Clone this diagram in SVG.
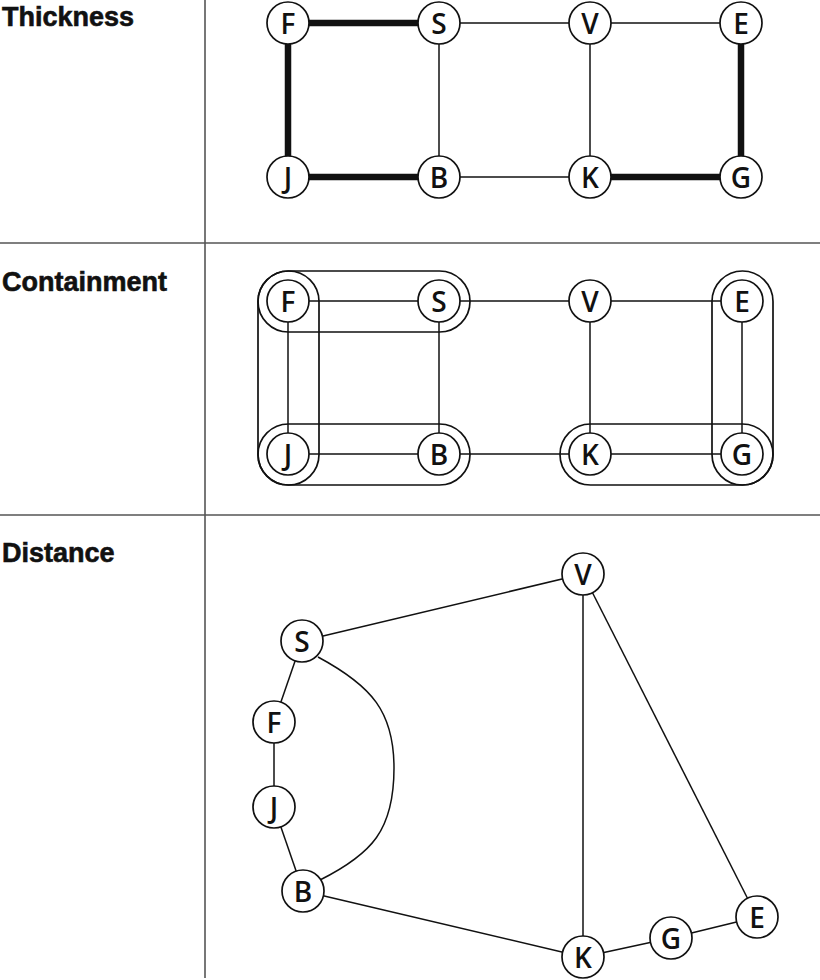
<svg xmlns="http://www.w3.org/2000/svg" width="820" height="980" viewBox="0 0 820 980">
<style>
.div{stroke:#555;stroke-width:1.6;fill:none}
.e{stroke:#111;stroke-width:1.5;fill:none}
.thick{stroke:#111;stroke-width:6.5;fill:none}
.pill{stroke:#111;stroke-width:1.7;fill:none}
.n circle{fill:#fff;stroke:#111;stroke-width:1.7}
.n text{font-family:"Open Sans","Liberation Sans",sans-serif;font-weight:600;font-size:28px;fill:#111;text-anchor:middle;dominant-baseline:central}
.lbl{font-family:"Liberation Sans",Arial,sans-serif;font-weight:bold;font-size:27px;fill:#111;stroke:#111;stroke-width:0.6}
</style>
<g id="dividers">
<line class="div" x1="205" y1="0" x2="205" y2="978"/>
<line class="div" x1="0" y1="243" x2="820" y2="243"/>
<line class="div" x1="0" y1="515" x2="820" y2="515"/>
</g>
<g id="labels">
<text class="lbl" x="2" y="26">Thickness</text>
<text class="lbl" x="2" y="291">Containment</text>
<text class="lbl" x="2" y="562">Distance</text>
</g>
<g id="connectors">
<line class="thick" x1="288" y1="23" x2="439" y2="23"/>
<line class="e" x1="439" y1="23" x2="590" y2="23"/>
<line class="e" x1="590" y1="23" x2="741" y2="23"/>
<line class="thick" x1="288" y1="23" x2="288" y2="177"/>
<line class="e" x1="439" y1="23" x2="439" y2="177"/>
<line class="e" x1="590" y1="23" x2="590" y2="177"/>
<line class="thick" x1="741" y1="23" x2="741" y2="177"/>
<line class="thick" x1="288" y1="177" x2="439" y2="177"/>
<line class="e" x1="439" y1="177" x2="590" y2="177"/>
<line class="thick" x1="590" y1="177" x2="741" y2="177"/>
<line class="e" x1="288" y1="301" x2="439" y2="301"/>
<line class="e" x1="439" y1="301" x2="590" y2="301"/>
<line class="e" x1="590" y1="301" x2="742" y2="301"/>
<line class="e" x1="288" y1="301" x2="288" y2="454"/>
<line class="e" x1="439" y1="301" x2="439" y2="454"/>
<line class="e" x1="590" y1="301" x2="590" y2="454"/>
<line class="e" x1="742" y1="301" x2="742" y2="454"/>
<line class="e" x1="288" y1="454" x2="439" y2="454"/>
<line class="e" x1="439" y1="454" x2="590" y2="454"/>
<line class="e" x1="590" y1="454" x2="742" y2="454"/>
<line class="e" x1="302" y1="641" x2="583" y2="574"/>
<line class="e" x1="302" y1="641" x2="274" y2="722"/>
<line class="e" x1="274" y1="722" x2="274" y2="807"/>
<line class="e" x1="274" y1="807" x2="303" y2="891"/>
<path class="e" d="M318,657 C372,686 394,712 394,768 C394,830 372,854 320,880"/>
<line class="e" x1="303" y1="891" x2="583" y2="957"/>
<line class="e" x1="583" y1="574" x2="583" y2="957"/>
<line class="e" x1="583" y1="574" x2="757" y2="917"/>
<line class="e" x1="583" y1="957" x2="671" y2="938"/>
<line class="e" x1="671" y1="938" x2="757" y2="917"/>
</g>
<g id="containers">
<rect class="pill" x="258" y="271" width="212" height="61" rx="30.5"/>
<rect class="pill" x="258" y="271" width="61" height="214" rx="30.5"/>
<rect class="pill" x="258" y="424" width="212" height="61" rx="30.5"/>
<rect class="pill" x="560" y="424" width="213" height="61" rx="30.5"/>
<rect class="pill" x="712" y="271" width="61" height="214" rx="30.5"/>
</g>
<g id="thickness-nodes">
<g id="t-F" class="n"><circle cx="288" cy="23" r="21"/><text x="288" y="23">F</text></g>
<g id="t-S" class="n"><circle cx="439" cy="23" r="21"/><text x="439" y="23">S</text></g>
<g id="t-V" class="n"><circle cx="590" cy="23" r="21"/><text x="590" y="23">V</text></g>
<g id="t-E" class="n"><circle cx="741" cy="23" r="21"/><text x="741" y="23">E</text></g>
<g id="t-J" class="n"><circle cx="288" cy="177" r="21"/><text x="288" y="177">J</text></g>
<g id="t-B" class="n"><circle cx="439" cy="177" r="21"/><text x="439" y="177">B</text></g>
<g id="t-K" class="n"><circle cx="590" cy="177" r="21"/><text x="590" y="177">K</text></g>
<g id="t-G" class="n"><circle cx="741" cy="177" r="21"/><text x="741" y="177">G</text></g>
</g>
<g id="containment-nodes">
<g id="c-F" class="n"><circle cx="288" cy="301" r="21"/><text x="288" y="301">F</text></g>
<g id="c-S" class="n"><circle cx="439" cy="301" r="21"/><text x="439" y="301">S</text></g>
<g id="c-V" class="n"><circle cx="590" cy="301" r="21"/><text x="590" y="301">V</text></g>
<g id="c-E" class="n"><circle cx="742" cy="301" r="21"/><text x="742" y="301">E</text></g>
<g id="c-J" class="n"><circle cx="288" cy="454" r="21"/><text x="288" y="454">J</text></g>
<g id="c-B" class="n"><circle cx="439" cy="454" r="21"/><text x="439" y="454">B</text></g>
<g id="c-K" class="n"><circle cx="590" cy="454" r="21"/><text x="590" y="454">K</text></g>
<g id="c-G" class="n"><circle cx="742" cy="454" r="21"/><text x="742" y="454">G</text></g>
</g>
<g id="distance-nodes">
<g id="d-V" class="n"><circle cx="583" cy="574" r="21"/><text x="583" y="574">V</text></g>
<g id="d-S" class="n"><circle cx="302" cy="641" r="21"/><text x="302" y="641">S</text></g>
<g id="d-F" class="n"><circle cx="274" cy="722" r="21"/><text x="274" y="722">F</text></g>
<g id="d-J" class="n"><circle cx="274" cy="807" r="21"/><text x="274" y="807">J</text></g>
<g id="d-B" class="n"><circle cx="303" cy="891" r="21"/><text x="303" y="891">B</text></g>
<g id="d-K" class="n"><circle cx="583" cy="957" r="21"/><text x="583" y="957">K</text></g>
<g id="d-G" class="n"><circle cx="671" cy="938" r="21"/><text x="671" y="938">G</text></g>
<g id="d-E" class="n"><circle cx="757" cy="917" r="21"/><text x="757" y="917">E</text></g>
</g>
</svg>
